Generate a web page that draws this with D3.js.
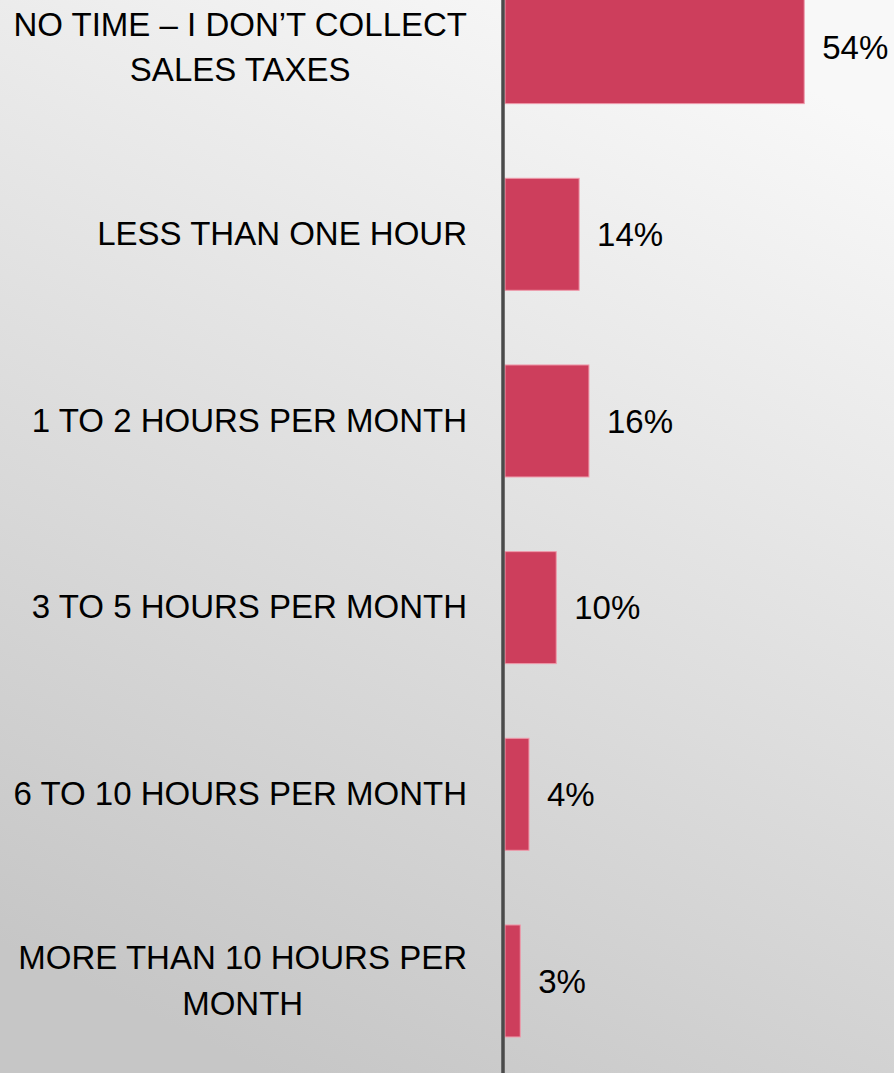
<!DOCTYPE html>
<html>
<head>
<meta charset="utf-8">
<script src="https://cdn.jsdelivr.net/npm/d3@7"></script>
<style>
  html, body { margin: 0; padding: 0; overflow: hidden; }
  svg { display: block; }
</style>
</head>
<body>
<svg id="chart" width="894" height="1073"></svg>
<script>
// time spent per month on sales taxes (share of respondents)
var categories = [
    "NO TIME \u2013 I DON\u2019T COLLECT SALES TAXES",
    "LESS THAN ONE HOUR",
    "1 TO 2 HOURS PER MONTH",
    "3 TO 5 HOURS PER MONTH",
    "6 TO 10 HOURS PER MONTH",
    "MORE THAN 10 HOURS PER MONTH"
];
// bar lengths
var values = [54.9, 13.6, 15.4, 9.4, 4.4, 2.8];
// data labels as printed
var valueLabels = ["54%", "14%", "16%", "10%", "4%", "3%"];

var width = 894, height = 1073;
var axisX = 503;
var labelRight = 467;
var wrapWidth = 465;

var svg = d3.select('#chart');

// background
var grad = svg.append('defs').append('linearGradient')
    .attr('id', 'bg')
    .attr('x1', '70%').attr('y1', '0%')
    .attr('x2', '30%').attr('y2', '100%');
grad.append('stop').attr('offset', '0%').attr('stop-color', '#f8f8f8');
grad.append('stop').attr('offset', '100%').attr('stop-color', '#c6c6c6');

svg.append('rect')
    .attr('width', width).attr('height', height)
    .attr('fill', 'url(#bg)');

var xs = d3.scaleLinear().domain([0, 60]).range([axisX + 2, axisX + 2 + 327]);
var ys = d3.scaleBand().domain(categories)
    .range([-45.7, 1074.3])
    .paddingInner(0.4)
    .paddingOuter(0.2);

var g = svg.append('g');

g.selectAll('rect.bar').data(values)
    .enter().append('rect')
    .attr('class', 'bar')
    .attr('x', xs(0))
    .attr('y', function (d, i) { return ys(categories[i]); })
    .attr('width', function (d) { return xs(d) - xs(0); })
    .attr('height', ys.bandwidth())
    .attr('fill', '#cd3e5c')
    .attr('stroke', '#ef9aab')
    .attr('stroke-width', 1);

// value labels
g.selectAll('text.val').data(values)
    .enter().append('text')
    .attr('class', 'val')
    .attr('x', function (d) { return xs(d) + 18; })
    .attr('y', function (d, i) { return ys(categories[i]) + ys.bandwidth() / 2 + 11.8; })
    .attr('font-family', 'Liberation Sans, Arial, sans-serif')
    .attr('font-size', 33)
    .attr('fill', '#000')
    .text(function (d, i) { return valueLabels[i]; });

// category labels, wrapped and centred in a box right-aligned to the axis gap
var lineGap = 45.5;
g.selectAll('text.cat').data(categories)
    .enter().append('text')
    .attr('class', 'cat')
    .attr('font-family', 'Liberation Sans, Arial, sans-serif')
    .attr('font-size', 33)
    .attr('fill', '#000')
    .attr('text-anchor', 'middle')
    .each(function (d) {
        var t = d3.select(this);
        var words = d.split(' ');
        var lines = [];
        var cur = [];
        var probe = t.append('tspan');
        words.forEach(function (w) {
            var test = cur.concat([w]).join(' ');
            probe.text(test);
            if (cur.length && probe.node().getComputedTextLength() > wrapWidth) {
                lines.push(cur.join(' '));
                cur = [w];
            } else {
                cur.push(w);
            }
        });
        lines.push(cur.join(' '));

        var maxW = 0;
        lines.forEach(function (l) {
            probe.text(l);
            maxW = Math.max(maxW, probe.node().getComputedTextLength());
        });
        probe.remove();

        var cx = labelRight - maxW / 2;
        var cy = ys(d) + ys.bandwidth() / 2 - 1;
        var first = cy - (lines.length - 1) * lineGap / 2 + 11.8;
        lines.forEach(function (l, k) {
            t.append('tspan')
                .attr('x', cx)
                .attr('y', first + k * lineGap)
                .text(l);
        });
    });

// vertical axis line
svg.append('line')
    .attr('x1', axisX).attr('x2', axisX)
    .attr('y1', 0).attr('y2', height)
    .attr('stroke', '#4a4a4a')
    .attr('stroke-width', 3.5);
</script>
</body>
</html>
